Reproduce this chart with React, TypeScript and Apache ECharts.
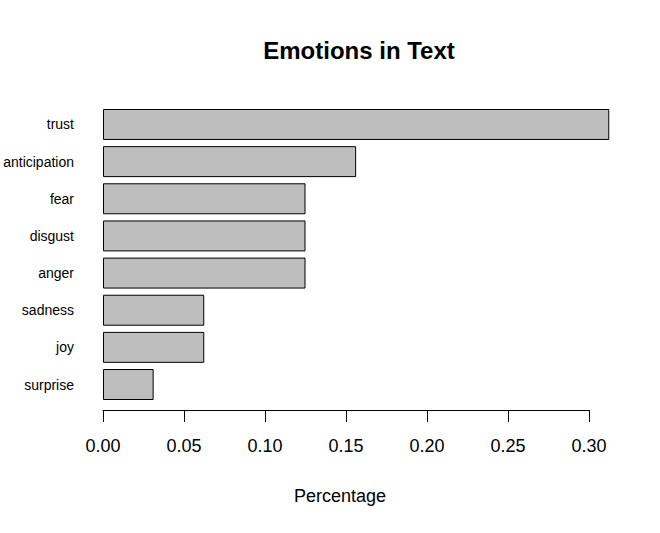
import React, { useEffect, useRef } from "react";
import * as echarts from "echarts";

const categories = ["trust", "anticipation", "fear", "disgust", "anger", "sadness", "joy", "surprise"];
const values = [0.3125, 0.15625, 0.125, 0.125, 0.125, 0.0625, 0.0625, 0.03125];
const xTicks = [0, 0.05, 0.1, 0.15, 0.2, 0.25, 0.3];

const FONT = "'Liberation Sans', Arial, sans-serif";

export default function App() {
  const ref = useRef<HTMLDivElement>(null);
  useEffect(() => {
    document.body.style.margin = "0";
    const chart = echarts.init(ref.current!, null, { renderer: "svg" });
    const pxPerUnit = 486 / 0.3;
    const maxVal = values[0];
    chart.setOption({
      animation: false,
      backgroundColor: "#ffffff",
      title: [
        {
          text: "Emotions in Text",
          left: 354,
          top: 33,
          textAlign: "center",
          textStyle: { fontFamily: FONT, fontSize: 24, fontWeight: "bold", color: "#000" },
        },
        {
          text: "Percentage",
          left: 335,
          top: 482,
          textAlign: "center",
          textStyle: { fontFamily: FONT, fontSize: 18, fontWeight: "normal", color: "#000" },
        },
      ],
      grid: [
        { left: 103, top: 105.9, height: 297.2, width: maxVal * pxPerUnit, containLabel: false },
        { left: 103, top: 400, height: 10, width: xTicks[xTicks.length - 1] * pxPerUnit, containLabel: false },
      ],
      xAxis: [
        { type: "value", gridIndex: 0, min: 0, max: maxVal, show: false },
        {
          type: "value",
          gridIndex: 1,
          min: 0,
          max: xTicks[xTicks.length - 1],
          interval: 0.05,
          position: "bottom",
          axisLine: { show: true, lineStyle: { color: "#000", width: 1 } },
          axisTick: { show: true, length: 12, lineStyle: { color: "#000", width: 1 } },
          splitLine: { show: false },
          axisLabel: {
            margin: 27,
            fontFamily: FONT,
            fontSize: 18,
            color: "#000",
            formatter: (v: number) => v.toFixed(2),
          },
        },
      ],
      yAxis: [
        {
          type: "category",
          gridIndex: 0,
          data: categories,
          inverse: true,
          axisLine: { show: false },
          axisTick: { show: false },
          splitLine: { show: false },
          axisLabel: { margin: 29, fontFamily: FONT, fontSize: 14, color: "#000", padding: [3, 0, 0, 0] },
        },
        { type: "value", gridIndex: 1, show: false, min: 0, max: 1 },
      ],
      series: [
        {
          type: "bar",
          xAxisIndex: 0,
          yAxisIndex: 0,
          data: values,
          barCategoryGap: "16.67%",
          itemStyle: { color: "#BEBEBE", borderColor: "#000", borderWidth: 1 },
        },
      ],
    });
    return () => chart.dispose();
  }, []);
  return <div ref={ref} style={{ width: 660, height: 533 }} />;
}
